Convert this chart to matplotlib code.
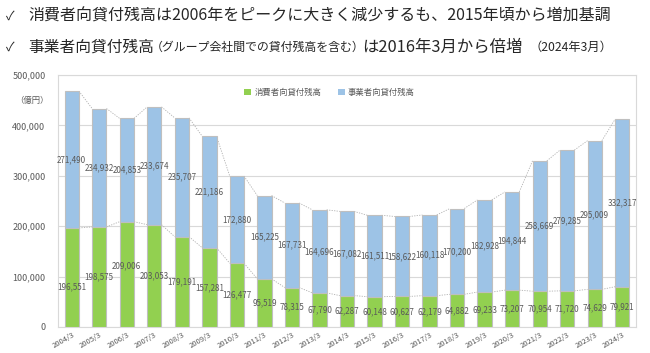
import matplotlib.pyplot as plt
import numpy as np
from matplotlib.patches import Patch

plt.rcParams['font.family'] = ['Noto Sans CJK JP', 'DejaVu Sans']

years = ["2004/3", "2005/3", "2006/3", "2007/3", "2008/3", "2009/3", "2010/3",
         "2011/3", "2012/3", "2013/3", "2014/3", "2015/3", "2016/3", "2017/3",
         "2018/3", "2019/3", "2020/3", "2021/3", "2022/3", "2023/3", "2024/3"]
consumer = [196551, 198575, 209006, 203053, 179191, 157281, 126477, 95519, 78315,
            67790, 62287, 60148, 60627, 62179, 64882, 69233, 73207, 70954, 71720,
            74629, 79921]
business = [271490, 234932, 204853, 233674, 235707, 221186, 172880, 165225, 167731,
            164696, 167082, 161511, 158622, 160118, 170200, 182928, 194844, 258669,
            279285, 295009, 332317]

green = "#92D050"
blue = "#9DC3E6"
edge = "#BFBFBF"
txt = "#595959"

fig = plt.figure(figsize=(6.5, 3.53), dpi=100)
ax = fig.add_axes([58 / 650, 26 / 353, 578 / 650, 252 / 353])

x = np.arange(len(years))
cons = np.array(consumer)
bus = np.array(business)
total = cons + bus
w = 0.52

ax.bar(x, cons, width=w, color=green, edgecolor=edge, linewidth=0.8, zorder=3)
ax.bar(x, bus, width=w, bottom=cons, color=blue, edgecolor=edge, linewidth=0.8, zorder=3)

# series lines between bars
for top in (cons, total):
    for i in range(len(x) - 1):
        ax.plot([x[i] + w / 2, x[i + 1] - w / 2], [top[i], top[i + 1]],
                color="#B0B0B0", linestyle=(0, (1.5, 1.5)), linewidth=0.6, zorder=2)

# value labels
shift = {0: -18000, 2: 17000}
for i in range(len(x)):
    ax.text(x[i], cons[i] / 2 + shift.get(i, 0), f"{consumer[i]:,}", ha="center",
            va="center", fontsize=5.8, color=txt, zorder=4)
    ax.text(x[i], cons[i] + bus[i] / 2, f"{business[i]:,}", ha="center",
            va="center", fontsize=5.8, color=txt, zorder=4)

ax.set_xlim(-0.5, len(x) - 0.5)
ax.set_ylim(0, 500000)
ax.set_yticks(np.arange(0, 500001, 100000))
ax.set_yticklabels([f"{v:,}" for v in range(0, 500001, 100000)], fontsize=6.5, color=txt)
ax.set_xticks(x)
ax.set_xticklabels(years, rotation=30, ha="right", rotation_mode="anchor",
                   fontsize=5.5, color=txt)
ax.tick_params(axis="y", length=0, pad=9)
ax.tick_params(axis="x", length=0, pad=3)
ax.grid(axis="y", color="#D9D9D9", linewidth=0.8, zorder=0)
for s in ax.spines.values():
    s.set_color("#D9D9D9")
    s.set_linewidth(0.8)

fig.text(15 / 650, 1 - 100 / 353, "（億円）", fontsize=6, color=txt, va="center")

handles = [Patch(facecolor=green, edgecolor="none", label="消費者向貸付残高"),
           Patch(facecolor=blue, edgecolor="none", label="事業者向貸付残高")]
ax.legend(handles=handles, loc="center", bbox_to_anchor=(0.47, 0.93), ncol=2,
          frameon=False, fontsize=6, handlelength=0.8, handleheight=0.8,
          handletextpad=0.4, columnspacing=2.0, labelcolor=txt)

# heading lines
dark = "#262626"
y1 = 1 - 16 / 353
y2 = 1 - 47 / 353
fig.text(6 / 650, y1, "✓", fontsize=9, color=dark, va="center")
fig.text(28 / 650, y1, "消費者向貸付残高は2006年をピークに大きく減少するも、2015年頃から増加基調",
         fontsize=11.5, color=dark, va="center")
fig.text(6 / 650, y2, "✓", fontsize=9, color=dark, va="center")
fig.text(28 / 650, y2, "事業者向貸付残高", fontsize=11.3, color=dark, va="center")
fig.text(151 / 650, y2, "（グループ会社間での貸付残高を含む）", fontsize=8.6, color=dark, va="center")
fig.text(362 / 650, y2, "は2016年3月から倍増", fontsize=11.8, color=dark, va="center")
fig.text(530 / 650, y2, "（2024年3月）", fontsize=8.8, color=dark, va="center")

fig.savefig("out.png", dpi=100)
